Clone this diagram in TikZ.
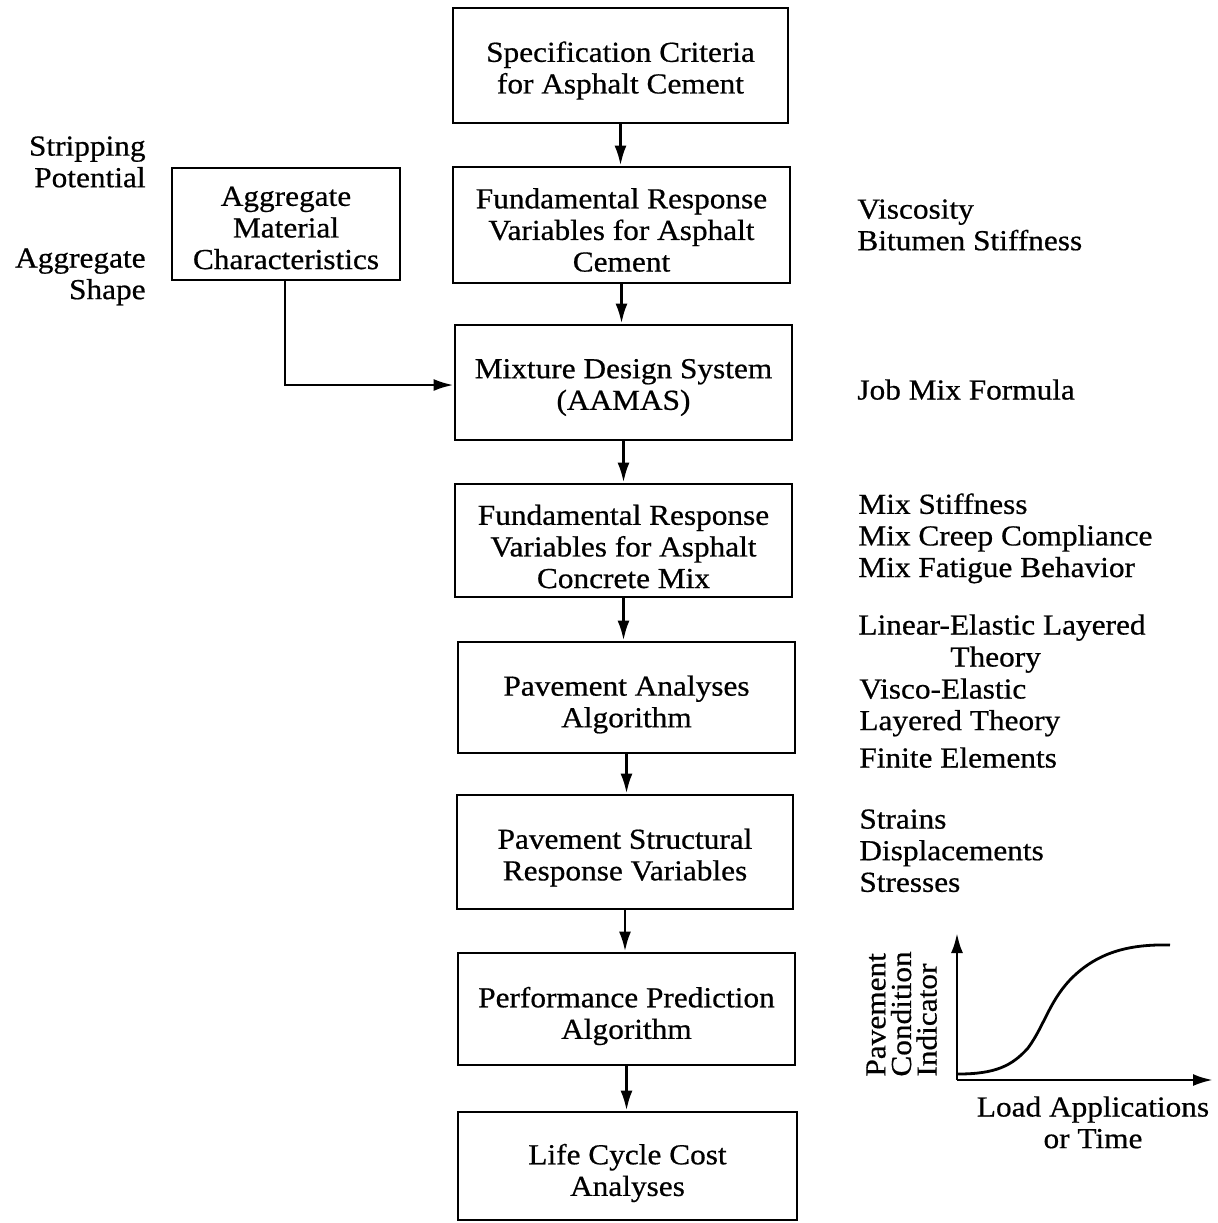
\documentclass[tikz,border=0pt]{standalone}
\usepackage{fontspec}
\setmainfont{Liberation Serif}[FakeStretch=1.08, FakeBold=0.6]
\usetikzlibrary{arrows.meta}

\tikzset{
  txt/.style={font=\fontsize{14.5pt}{15.8pt}\selectfont},
  stage/.style={draw, line width=1.4pt, inner sep=0pt},
  stagetext/.style={align=center, inner sep=0pt, txt},
  flow/.style={line width=1.4pt, -{Latex[length=10pt,width=6pt]}},
  note/.style={align=left, anchor=north west, inner sep=0pt, txt},
  sidenote/.style={align=right, anchor=north east, inner sep=0pt, txt},
  axis/.style={line width=1.4pt, -{Latex[length=10pt,width=6pt]}},
}

\begin{document}
\begin{tikzpicture}[x=0.5pt, y=-0.5pt]
\useasboundingbox (0,0) rectangle (1218,1223);

% main chain of stages (frames)
\node[stage, minimum width=167.5pt, minimum height=57.5pt] (spec) at (620.5,65.5) {};
\node[stage, minimum width=168.5pt, minimum height=58pt] (frac) at (621.5,225) {};
\node[stage, minimum width=168.5pt, minimum height=57.5pt] (mix) at (623.5,382.5) {};
\node[stage, minimum width=168.5pt, minimum height=56.5pt] (frmix) at (623.5,540.5) {};
\node[stage, minimum width=168.5pt, minimum height=55.5pt] (paa) at (626.5,697.5) {};
\node[stage, minimum width=168pt, minimum height=57pt] (psr) at (625,852) {};
\node[stage, minimum width=168.5pt, minimum height=56pt] (ppa) at (626.5,1009) {};
\node[stage, minimum width=169.5pt, minimum height=54pt] (lcc) at (627.5,1166) {};
\node[stage, minimum width=114pt, minimum height=56pt] (agg) at (286,224) {};

% stage captions, set slightly below the frame centres
\node[stagetext] (spect) at ([yshift=-2.5pt]spec.center) {Specification Criteria\\for Asphalt Cement};
\node[stagetext] (fract) at ([yshift=-2.5pt]frac.center) {Fundamental Response\\Variables for Asphalt\\Cement};
\node[stagetext] (mixt) at ([yshift=-2.5pt]mix.center) {Mixture Design System\\(AAMAS)};
\node[stagetext] (frmixt) at ([yshift=-3pt]frmix.center) {Fundamental Response\\Variables for Asphalt\\Concrete Mix};
\node[stagetext] (paat) at ([yshift=-3.5pt]paa.center) {Pavement Analyses\\Algorithm};
\node[stagetext] (psrt) at ([yshift=-2.8pt]psr.center) {Pavement Structural\\Response Variables};
\node[stagetext] (ppat) at ([yshift=-3.5pt]ppa.center) {Performance Prediction\\Algorithm};
\node[stagetext] (lcct) at ([yshift=-3.5pt]lcc.center) {Life Cycle Cost\\Analyses};
\node[stagetext] (aggt) at ([yshift=-2pt]agg.center) {Aggregate\\Material\\Characteristics};

% connectors
\draw[flow] (spec.south) -- (spec.south |- frac.north);
\draw[flow] (frac.south) -- (frac.south |- mix.north);
\draw[flow] (mix.south) -- (mix.south |- frmix.north);
\draw[flow] (frmix.south) -- (frmix.south |- paa.north);
\draw[flow] (paa.south) -- (paa.south |- psr.north);
\draw[flow] (psr.south) -- (psr.south |- ppa.north);
\draw[flow] (ppa.south) -- (ppa.south |- lcc.north);
\coordinate (aggturn) at (285,385);
\draw[flow] (agg.south -| aggturn) -- (aggturn) -- (aggturn -| mix.west);

% aggregate properties
\node[sidenote] (strip) at (146,136) {Stripping\\Potential};
\node[sidenote] (shape) at (146,248) {Aggregate\\Shape};

% outputs of each stage
\node[note] (visc) at (857,199) {Viscosity\\Bitumen Stiffness};
\node[note] (jmf) at (857,379) {Job Mix Formula};
\node[note] (mixp) at (858,493) {Mix Stiffness\\Mix Creep Compliance\\Mix Fatigue Behavior};
\node[note] (lin) at (858,614) {Linear-Elastic Layered};
\node[note] (lint) at (950,646) {Theory};
\node[note] (visco) at (859,678) {Visco-Elastic\\Layered Theory};
\node[note] (fe) at (859,747) {Finite Elements};
\node[note] (resp) at (859,809) {Strains\\Displacements\\Stresses};

% performance curve
\coordinate (orig) at (957,1080);
\coordinate (ytip) at (957,933);
\coordinate (xtip) at (1213,1080);
\draw[axis] (orig) -- (ytip);
\draw[axis] (orig) -- (xtip);
\draw[line width=1.4pt] (958,1074) .. controls (995,1074) and (1012,1066) .. (1028,1048)
  .. controls (1045,1025) and (1050,998) .. (1075,975)
  .. controls (1100,952) and (1130,944) .. (1170,945);
\node[align=left, rotate=90, anchor=north west, inner sep=0pt,
  font=\fontsize{14.5pt}{12.8pt}\selectfont] (pci) at (866,1077)
  {Pavement\\Condition\\Indicator};
\node[align=center, anchor=north, inner sep=0pt, txt] (lat) at (1093,1096)
  {Load Applications\\or Time};
\end{tikzpicture}
\end{document}
